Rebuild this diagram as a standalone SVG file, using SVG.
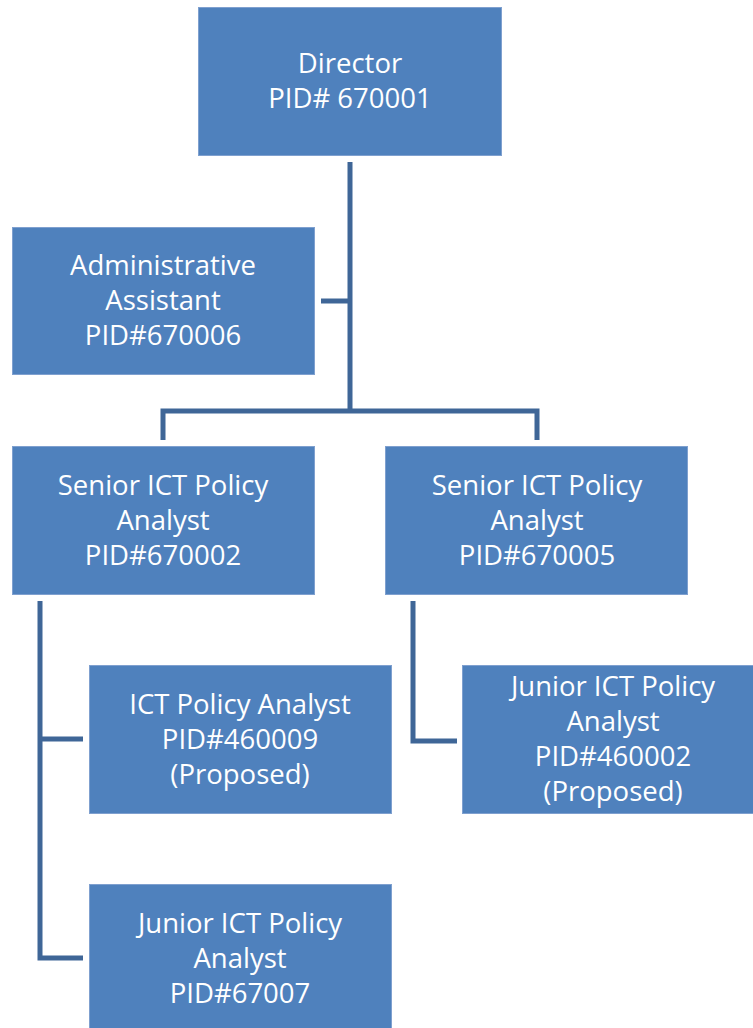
<svg xmlns="http://www.w3.org/2000/svg" width="753" height="1028" viewBox="0 0 753 1028">
<style>
.box{fill:#4F81BD;stroke:#7FA0CF;stroke-width:1}
.t{font-family:"Open Sans","Liberation Sans",sans-serif;font-size:27.5px;fill:#FFFFFF;text-anchor:middle}
.c{fill:none;stroke:#3F6697;stroke-width:5;stroke-linejoin:miter}
</style>
<rect width="753" height="1028" fill="#FFFFFF"/>
<g id="connectors">
<path class="c" d="M350 162 V411"/>
<path class="c" d="M321 301 H350"/>
<path class="c" d="M163 440 V411 H537 V440"/>
<path class="c" d="M40 601 V958 H83"/>
<path class="c" d="M40 739 H83"/>
<path class="c" d="M413 601 V741 H457"/>
</g>
<g id="director">
<rect class="box" x="198.5" y="7.5" width="303" height="148"/>
<text class="t" x="350" y="73">Director</text>
<text class="t" x="350" y="108">PID# 670001</text>
</g>
<g id="admin">
<rect class="box" x="12.5" y="227.5" width="302" height="147"/>
<text class="t" x="163" y="275">Administrative</text>
<text class="t" x="163" y="310">Assistant</text>
<text class="t" x="163" y="345">PID#670006</text>
</g>
<g id="senior1">
<rect class="box" x="12.5" y="446.5" width="302" height="148"/>
<text class="t" x="163" y="495">Senior ICT Policy</text>
<text class="t" x="163" y="530">Analyst</text>
<text class="t" x="163" y="565">PID#670002</text>
</g>
<g id="senior2">
<rect class="box" x="385.5" y="446.5" width="302" height="148"/>
<text class="t" x="537" y="495">Senior ICT Policy</text>
<text class="t" x="537" y="530">Analyst</text>
<text class="t" x="537" y="565">PID#670005</text>
</g>
<g id="ictanalyst">
<rect class="box" x="89.5" y="665.5" width="302" height="148"/>
<text class="t" x="240" y="714">ICT Policy Analyst</text>
<text class="t" x="240" y="749">PID#460009</text>
<text class="t" x="240" y="784">(Proposed)</text>
</g>
<g id="junior2">
<rect class="box" x="462.5" y="665.5" width="302" height="148"/>
<text class="t" x="613" y="696">Junior ICT Policy</text>
<text class="t" x="613" y="731">Analyst</text>
<text class="t" x="613" y="766">PID#460002</text>
<text class="t" x="613" y="801">(Proposed)</text>
</g>
<g id="junior1">
<rect class="box" x="89.5" y="884.5" width="302" height="148"/>
<text class="t" x="240" y="933">Junior ICT Policy</text>
<text class="t" x="240" y="968">Analyst</text>
<text class="t" x="240" y="1003">PID#67007</text>
</g>
</svg>
